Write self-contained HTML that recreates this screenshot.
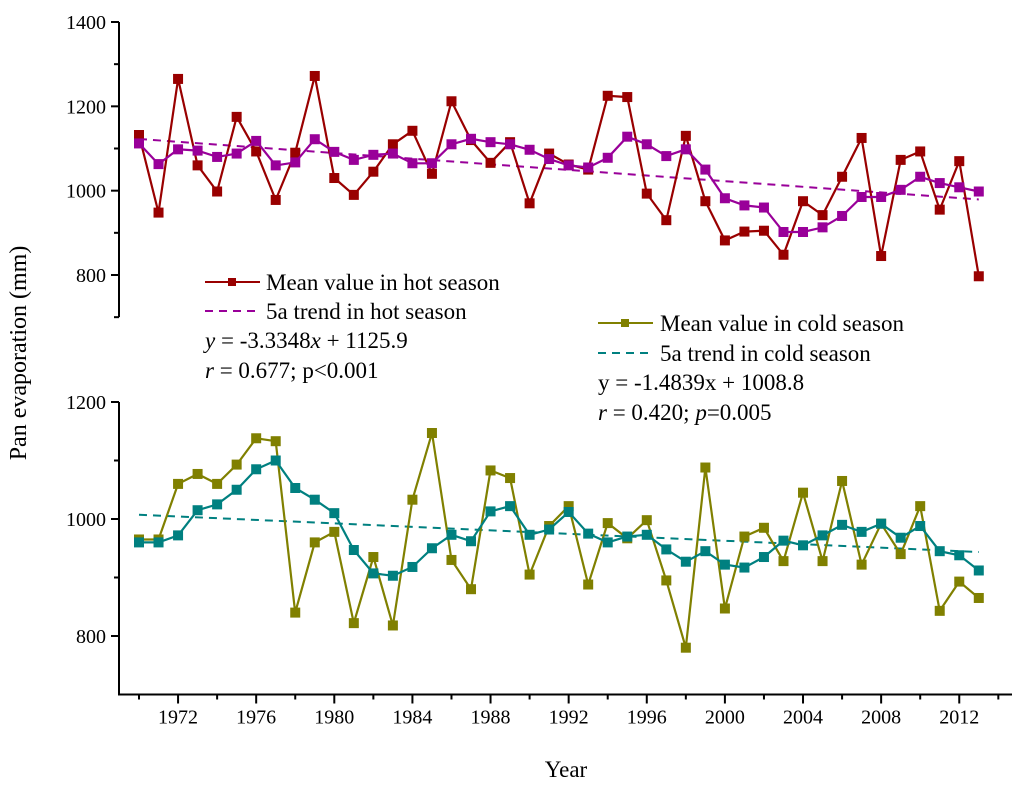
<!DOCTYPE html>
<html><head><meta charset="utf-8"><style>
html,body{margin:0;padding:0;background:#fff;}
svg{display:block;font-family:"Liberation Serif",serif;}
</style></head><body>
<svg id="chart" width="1024" height="785" viewBox="0 0 1024 785" xmlns="http://www.w3.org/2000/svg">
<g id="axes"></g>
<g id="series"></g>
<text x="0" y="0" transform="translate(26,353) rotate(-90)" text-anchor="middle" font-size="24">Pan evaporation (mm)</text>
<text x="566" y="777" text-anchor="middle" font-size="23">Year</text>
<g font-size="23">
<g><line x1="205" y1="282" x2="260" y2="282" stroke="#990000" stroke-width="2"/><rect x="228" y="278" width="8" height="8" fill="#990000"/><text x="266" y="290">Mean value in hot season</text></g>
<g><line x1="205" y1="311" x2="260" y2="311" stroke="#990099" stroke-width="2" stroke-dasharray="8,6"/><text x="266" y="319">5a trend in hot season</text></g>
<text x="205" y="348"><tspan font-style="italic">y</tspan> = -3.3348<tspan font-style="italic">x</tspan> + 1125.9</text>
<text x="205" y="378"><tspan font-style="italic">r</tspan> = 0.677;  p&lt;0.001</text>
</g>
<g font-size="23">
<g><line x1="598" y1="323" x2="653" y2="323" stroke="#808000" stroke-width="2"/><rect x="621" y="319" width="8" height="8" fill="#808000"/><text x="660" y="331">Mean value in cold season</text></g>
<g><line x1="598" y1="353" x2="653" y2="353" stroke="#008080" stroke-width="2" stroke-dasharray="8,6"/><text x="660" y="361">5a trend in cold season</text></g>
<text x="598" y="390">y = -1.4839x + 1008.8</text>
<text x="598" y="420"><tspan font-style="italic">r</tspan> = 0.420;  <tspan font-style="italic">p</tspan>=0.005</text>
</g>
</svg>
<script>
const years = [];
for (let y = 1970; y <= 2013; y++) years.push(y);
const hotMean = [1132,948,1265,1060,998,1175,1093,978,1090,1272,1030,990,1045,1110,1142,1040,1212,1120,1066,1115,970,1088,1062,1050,1225,1222,993,930,1130,975,882,903,905,848,975,942,1033,1125,845,1073,1093,955,1070,797];
const hot5a = [1112,1063,1098,1095,1080,1088,1118,1060,1067,1122,1092,1073,1085,1088,1065,1065,1110,1123,1115,1110,1097,1075,1060,1055,1078,1128,1110,1082,1098,1050,982,965,960,902,902,913,940,985,985,1002,1033,1018,1008,998];
const coldMean = [965,965,1060,1077,1060,1093,1138,1133,840,960,978,822,935,818,1033,1147,930,880,1083,1070,905,988,1022,888,993,967,998,895,780,1088,847,970,985,928,1045,928,1065,922,992,940,1022,843,893,865];
const cold5a = [960,960,972,1015,1025,1050,1085,1100,1053,1033,1010,947,907,903,918,950,973,962,1013,1022,973,982,1012,975,960,970,973,948,927,945,922,917,935,963,955,972,990,978,992,968,988,945,938,912];
const hotTrend = [-3.3348, 1125.9];
const coldTrend = [-1.4839, 1008.8];
const hotTicks = [800,1000,1200,1400];
const coldTicks = [800,1000,1200];
const yearTicks = [1972,1976,1980,1984,1988,1992,1996,2000,2004,2008,2012];

const NS = "http://www.w3.org/2000/svg";
const xOf = yr => 139 + (yr - 1970) * 19.53;
const yHot = v => 275 - (v - 800) * (253 / 600);
const yCold = v => 636 - (v - 800) * (234 / 400);
const AX = 119;
function el(tag, attrs, parent) {
  const e = document.createElementNS(NS, tag);
  for (const k in attrs) e.setAttribute(k, attrs[k]);
  parent.appendChild(e);
  return e;
}
const axes = document.getElementById('axes');
const series = document.getElementById('series');

let a = el('line', {x1: AX, y1: yHot(1400), x2: AX, y2: yHot(700), stroke: '#000', 'stroke-width': 2}, axes);


for (let v = 700; v <= 1400; v += 100) {
  const t = el('line', {x1: AX - (v % 200 === 0 ? 8 : 5), y1: yHot(v), x2: AX, y2: yHot(v), stroke: '#000', 'stroke-width': 2}, axes);
  
  
}
hotTicks.forEach(v => {
  const t = el('text', {x: AX - 13, y: yHot(v) + 7, 'text-anchor': 'end', 'font-size': 20}, axes);
  t.textContent = v;
  
  
});
a = el('line', {x1: AX, y1: yCold(1200), x2: AX, y2: yCold(700), stroke: '#000', 'stroke-width': 2}, axes);


for (let v = 800; v <= 1200; v += 100) {
  const t = el('line', {x1: AX - (v % 200 === 0 ? 8 : 5), y1: yCold(v), x2: AX, y2: yCold(v), stroke: '#000', 'stroke-width': 2}, axes);
  
  
}
coldTicks.forEach(v => {
  const t = el('text', {x: AX - 13, y: yCold(v) + 7, 'text-anchor': 'end', 'font-size': 20}, axes);
  t.textContent = v;
  
  
});
const XB = yCold(700);
a = el('line', {x1: AX - 1, y1: XB, x2: 1012, y2: XB, stroke: '#000', 'stroke-width': 2}, axes);


for (let yr = 1970; yr <= 2014; yr += 2) {
  const major = yearTicks.includes(yr);
  const t = el('line', {x1: xOf(yr), y1: XB, x2: xOf(yr), y2: XB + (major ? 9 : 5), stroke: '#000', 'stroke-width': 2}, axes);
  
  
}
yearTicks.forEach(yr => {
  const t = el('text', {x: xOf(yr), y: XB + 29, 'text-anchor': 'middle', 'font-size': 20}, axes);
  t.textContent = yr;
  
  
});

function drawLine(vals, yf, color, name, markers) {
  const pts = vals.map((v, i) => xOf(years[i]).toFixed(1) + ',' + yf(v).toFixed(1)).join(' ');
  const p = el('polyline', {points: pts, fill: 'none', stroke: color, 'stroke-width': 2.2}, series);
  
  
  if (markers) vals.forEach((v, i) => {
    const r = el('rect', {x: xOf(years[i]) - 5, y: yf(v) - 5, width: 10, height: 10, fill: color}, series);
    
    
  });
}
function drawTrend(coef, yf, color, name) {
  const n = years.length;
  const p = el('line', {x1: xOf(years[0]), y1: yf(coef[0] * 1 + coef[1]), x2: xOf(years[n - 1]), y2: yf(coef[0] * n + coef[1]), stroke: color, 'stroke-width': 2, 'stroke-dasharray': '8,6'}, series);
  
  
}
drawTrend(hotTrend, yHot, '#990099', 'hot-trend-line');
drawLine(hotMean, yHot, '#990000', 'hot-mean', true);
drawLine(hot5a, yHot, '#990099', 'hot-5a', true);
drawTrend(coldTrend, yCold, '#008080', 'cold-trend-line');
drawLine(coldMean, yCold, '#808000', 'cold-mean', true);
drawLine(cold5a, yCold, '#008080', 'cold-5a', true);
</script>
</body></html>
